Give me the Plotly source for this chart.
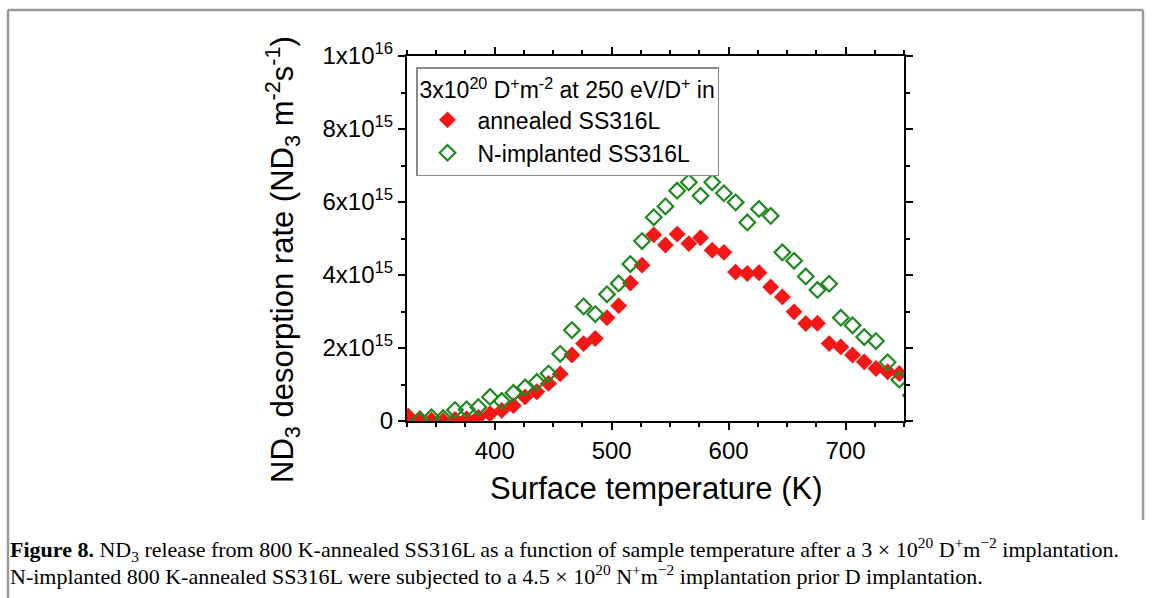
import plotly.graph_objects as go

# ---------------- data ----------------
temp_annealed = [326, 336, 346, 356, 366, 376, 386, 396, 406, 416, 426, 436, 446, 456,
                 466, 476, 486, 496, 506, 516, 526, 536, 546, 556, 566, 576, 586, 596,
                 606, 616, 626, 636, 646, 656, 666, 676, 686, 696, 706, 716, 726, 736, 746]
rate_annealed_e15 = [0.13, 0.07, 0.02, 0.01, 0.04, 0.06, 0.10, 0.20, 0.29, 0.42, 0.66, 0.80,
                     1.03, 1.29, 1.81, 2.12, 2.26, 2.83, 3.16, 3.78, 4.27, 5.10, 4.82, 5.12,
                     4.86, 5.02, 4.68, 4.62, 4.08, 4.04, 4.06, 3.67, 3.40, 2.99, 2.67, 2.68,
                     2.12, 2.03, 1.81, 1.62, 1.44, 1.35, 1.30]

temp_nimpl = [336, 346, 356, 366, 376, 386, 396, 406, 416, 426, 436, 446, 456, 466, 476,
              486, 496, 506, 516, 526, 536, 546, 556, 566, 576, 586, 596, 606, 616, 626,
              636, 646, 656, 666, 676, 686, 696, 706, 716, 726, 736, 746, 756]
rate_nimpl_e15 = [0.03, 0.10, 0.08, 0.30, 0.32, 0.38, 0.66, 0.55, 0.77, 0.92, 1.07, 1.30,
                  1.84, 2.49, 3.14, 2.93, 3.47, 3.77, 4.30, 4.93, 5.58, 5.88, 6.31, 6.54,
                  6.17, 6.54, 6.24, 5.99, 5.44, 5.81, 5.62, 4.62, 4.39, 3.96, 3.59, 3.76,
                  2.83, 2.62, 2.30, 2.19, 1.61, 1.13, 0.70]

y_tickvals = [0, 2e15, 4e15, 6e15, 8e15, 1e16]
y_ticktext = ["0", "2x10<sup>15</sup>", "4x10<sup>15</sup>", "6x10<sup>15</sup>",
              "8x10<sup>15</sup>", "1x10<sup>16</sup>"]
x_tickvals = [400, 500, 600, 700]

series_names = ["annealed SS316L", "N-implanted SS316L"]
legend_title = "3x10<sup>20</sup> D<sup>+</sup>m<sup>-2</sup> at 250 eV/D<sup>+</sup> in"

# ---------------- layout geometry (pixels) ----------------
W, H = 1155, 598
L, R, T, B = 407, 904, 56, 421
pw, ph = R - L, B - T


def px(x):
    return (x - L) / pw


def py(y):
    return (B - y) / ph


FONT = "Liberation Sans, Arial, sans-serif"
SERIF = "Liberation Serif, Times New Roman, serif"

fig = go.Figure()
fig.add_trace(go.Scatter(
    x=temp_annealed, y=[v * 1e15 for v in rate_annealed_e15], mode="markers",
    name=series_names[0],
    marker=dict(symbol="diamond", size=13, color="#f51616", line=dict(width=0)),
))
fig.add_trace(go.Scatter(
    x=temp_nimpl, y=[v * 1e15 for v in rate_nimpl_e15], mode="markers",
    name=series_names[1],
    marker=dict(symbol="diamond-open", size=12, color="#1f8a1f", line=dict(width=2.2, color="#1f8a1f")),
))

xr = [325, 750]
yr = [0, 1e16]
common = dict(showgrid=False, zeroline=False, showline=True, linecolor="black", linewidth=2,
              mirror="allticks", tickcolor="black", tickwidth=2, ticklen=7)

fig.update_layout(
    width=W, height=H,
    margin=dict(l=L, r=W - R, t=T, b=H - B, pad=0),
    paper_bgcolor="white", plot_bgcolor="white",
    font=dict(family=FONT, color="black", size=24),
    showlegend=True,
    xaxis=dict(range=xr, tickvals=x_tickvals, ticks="outside",
               minor=dict(ticks="outside", dtick=25, tick0=325, ticklen=4, tickwidth=1.5, tickcolor="black"),
               tickfont=dict(size=24, family=FONT), **common),
    yaxis=dict(range=yr, tickvals=y_tickvals, ticktext=y_ticktext, ticks="outside",
               minor=dict(ticks="outside", dtick=1e15, tick0=0, ticklen=4, tickwidth=1.5, tickcolor="black"),
               tickfont=dict(size=24, family=FONT), **common),
    xaxis2=dict(range=xr, overlaying="x", anchor="y", side="bottom", tickvals=x_tickvals,
                ticks="inside", showticklabels=False,
                minor=dict(ticks="inside", dtick=25, tick0=325, ticklen=4, tickwidth=1.5, tickcolor="black"),
                **common),
    yaxis2=dict(range=yr, overlaying="y", anchor="x", side="left", tickvals=y_tickvals,
                ticks="inside", showticklabels=False,
                minor=dict(ticks="inside", dtick=1e15, tick0=0, ticklen=4, tickwidth=1.5, tickcolor="black"),
                **common),
    legend=dict(x=px(416), y=py(67), xanchor="left", yanchor="top",
                bgcolor="white", bordercolor="#8a8a8a", borderwidth=1.5,
                font=dict(size=23, family=FONT), itemwidth=50, tracegroupgap=0,
                title=dict(text=legend_title, font=dict(size=23, family=FONT))),
)

# axis titles
fig.add_annotation(x=px(656), y=py(488), xref="paper", yref="paper",
                   text="Surface temperature (K)", showarrow=False,
                   font=dict(size=31, family=FONT), xanchor="center", yanchor="middle")
fig.add_annotation(x=px(282), y=py(260), xref="paper", yref="paper",
                   text="ND<sub>3</sub> desorption rate (ND<sub>3</sub> m<sup>-2</sup>s<sup>-1</sup>)",
                   showarrow=False, textangle=-90,
                   font=dict(size=31, family=FONT), xanchor="center", yanchor="middle")

# caption
cap1 = ("<b>Figure 8.</b> ND<sub>3</sub> release from 800 K-annealed SS316L as a function of sample "
        "temperature after a 3 × 10<sup>20</sup> D<sup>+</sup>m<sup>−2</sup> implantation.")
cap2 = ("N-implanted 800 K-annealed SS316L were subjected to a 4.5 × 10<sup>20</sup> "
        "N<sup>+</sup>m<sup>−2</sup> implantation prior D implantation.")
fig.add_annotation(x=px(8), y=py(549), xref="paper", yref="paper", text=cap1, showarrow=False,
                   font=dict(size=22, family=SERIF), xanchor="left", yanchor="middle", align="left")
fig.add_annotation(x=px(8), y=py(575), xref="paper", yref="paper", text=cap2, showarrow=False,
                   font=dict(size=22, family=SERIF), xanchor="left", yanchor="middle", align="left")

# page frame
frame = dict(type="line", xref="paper", yref="paper", line=dict(color="#9a9a9a", width=2.5))
fig.add_shape(x0=px(8), x1=px(8), y0=py(10), y1=py(598), **frame)
fig.add_shape(x0=px(8), x1=px(1143), y0=py(10), y1=py(10), **frame)
fig.add_shape(x0=px(1143), x1=px(1143), y0=py(10), y1=py(520), **frame)

fig.write_html("out.html")
